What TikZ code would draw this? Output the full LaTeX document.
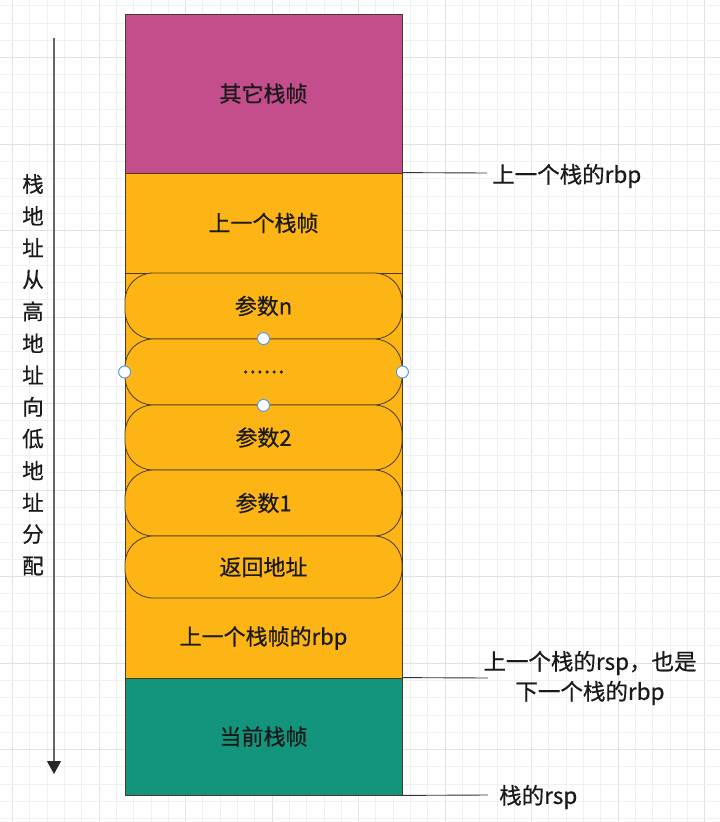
\documentclass[tikz,border=0pt]{standalone}
\usepackage{fontspec}
\setmainfont{Noto Sans CJK SC}[FakeBold=0.6]
\usetikzlibrary{arrows.meta}
\definecolor{pinkc}{HTML}{C44D8B}
\definecolor{orangec}{HTML}{FDB515}
\definecolor{greenc}{HTML}{13957D}
\definecolor{edgec}{HTML}{4A3A20}
\definecolor{txtc}{HTML}{1A1A1A}
\definecolor{gminor}{HTML}{F0F0F0}
\definecolor{gmajor}{HTML}{E2E2E2}
\definecolor{handlec}{HTML}{5B9BDB}
\tikzset{
  gridminor/.style={draw=gminor, line width=0.8pt},
  gridmajor/.style={draw=gmajor, line width=1pt},
  box/.style={draw=edgec, line width=0.8pt, minimum width=277pt, inner sep=0pt,
    text=txtc, font=\fontsize{22}{26}\selectfont},
  rbox/.style={box, rounded corners=28pt, fill=orangec},
  lead/.style={draw=black!80, line width=0.9pt},
  lbl/.style={text=txtc, font=\fontsize{22.5}{30}\selectfont, inner sep=0pt},
  handle/.style={circle, draw=handlec, fill=white, line width=1pt, minimum size=12pt, inner sep=0pt},
  vchar/.style={text=txtc, font=\fontsize{21.5}{24}\selectfont, inner sep=0pt},
}
\begin{document}
\begin{tikzpicture}[x=1pt,y=-1pt]
\useasboundingbox (0,0) rectangle (720,822);
\fill[white] (0,0) rectangle (720,822);
% grid
\foreach \i in {0,...,47}{
  \pgfmathtruncatemacro\m{mod(\i,5)}
  \pgfmathsetmacro\xx{-74+17.3*\i}
  \ifnum\m=0 \draw[gridmajor] (\xx,0) -- (\xx,822);
  \else \draw[gridminor] (\xx,0) -- (\xx,822); \fi
}
\foreach \j in {0,...,51}{
  \pgfmathtruncatemacro\m{mod(\j,5)}
  \pgfmathsetmacro\yy{-29+17.3*\j}
  \ifnum\m=0 \draw[gridmajor] (0,\yy) -- (720,\yy);
  \else \draw[gridminor] (0,\yy) -- (720,\yy); \fi
}
% stack column
\node[box, fill=pinkc, minimum height=159pt] (other) at (263.5,93.5) {其它栈帧};
\node[box, fill=orangec, minimum height=505pt] (prevbg) at (263.5,425.5) {};
\node[box, draw=none, minimum height=100pt] (prev) at (263.5,223) {上一个栈帧};
\draw[draw=edgec, line width=0.8pt] (125,273) -- (402,273);
\node[rbox, minimum height=66pt] (pn) at (263.5,306) {参数n};
\node[rbox, minimum height=66pt] (pdots) at (263.5,372) {.\kern1pt.\kern1pt.\kern1pt.\kern1pt.\kern1pt.};
\node[rbox, minimum height=65pt] (p2) at (263.5,437.5) {参数2};
\node[rbox, minimum height=66pt] (p1) at (263.5,503) {参数1};
\node[rbox, minimum height=62pt] (ret) at (263.5,567) {返回地址};
\node[box, draw=none, minimum height=80pt] (prbp) at (263.5,638) {上一个栈帧的rbp};
\node[box, fill=greenc, minimum height=117pt] (cur) at (263.5,736.5) {当前栈帧};
% selection handles
\node[handle] (h1) at (pdots.north) {};
\node[handle] (h2) at (pdots.south) {};
\node[handle] (h3) at (pdots.west) {};
\node[handle] (h4) at (pdots.east) {};
% left arrow
\coordinate (atop) at (54,38);
\coordinate (abot) at (54,774);
\draw[draw=black!60, line width=1.2pt, -{Triangle[width=14pt,length=13pt,color=black!85]}] (atop) -- (abot);
% vertical text
\foreach \c [count=\k from 0] in {栈,地,址,从,高,地,址,向,低,地,址,分,配}{
  \node[vchar] (v\k) at (33,{184+31.83*\k}) {\c};
}
% right labels
\coordinate (c1) at (487,173);
\draw[lead] (prev.north east) -- (c1);
\node[lbl, anchor=west] (l1) at (492,176) {上一个栈的rbp};
\coordinate (c2) at (488,678);
\draw[lead] (cur.north east) -- (c2);
\node[lbl, align=center] (l2) at (590,678) {上一个栈的rsp，也是\\下一个栈的rbp};
\coordinate (c3) at (488,795);
\draw[lead] (cur.south east) -- (c3);
\node[lbl, anchor=west] (l3) at (499,797) {栈的rsp};
\end{tikzpicture}
\end{document}
